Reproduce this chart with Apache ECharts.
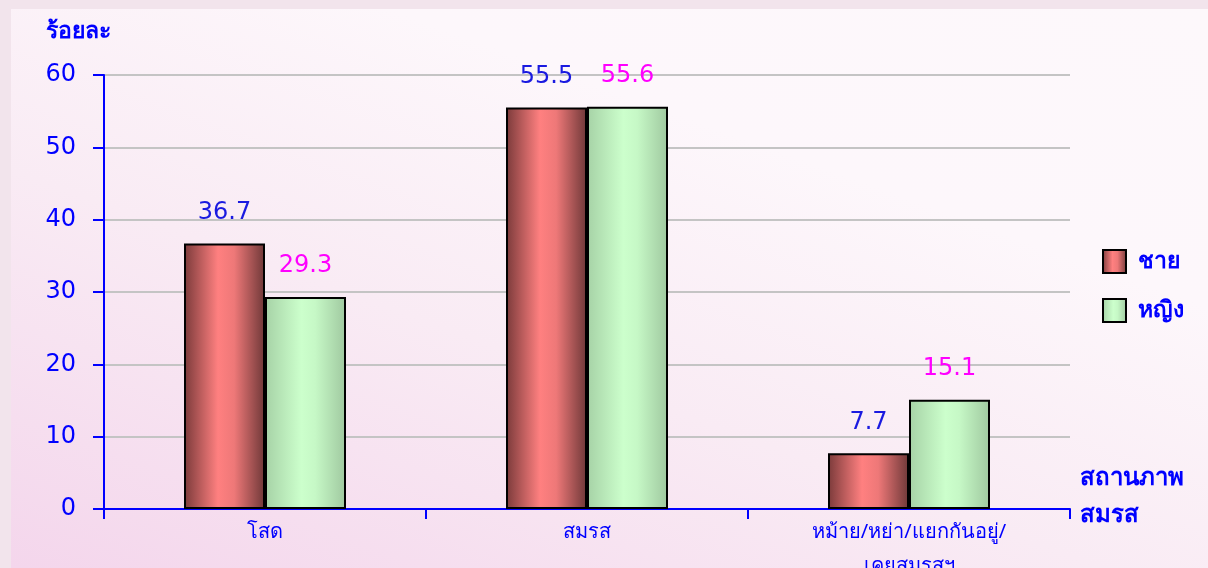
<!DOCTYPE html>
<html>
<head>
<meta charset="utf-8">
<script src="https://cdn.jsdelivr.net/npm/echarts@6/dist/echarts.min.js"></script>
<style>
html,body{margin:0;padding:0;width:1208px;height:568px;overflow:hidden;background:#f2e4ec;}
#bg{position:absolute;left:11px;top:9px;width:1197px;height:559px;background:linear-gradient(20deg,#f4d6ec 0%,#f9ebf4 40%,#fdf7fb 70%,#fdf8fb 100%);}
#chart{position:absolute;left:0;top:0;width:1208px;height:568px;}
</style>
</head>
<body>
<div id="bg"></div>
<div id="chart"></div>
<script>
const categories = ['โสด', 'สมรส', 'หม้าย/หย่า/แยกกันอยู่/\nเคยสมรสฯ'];
const seriesNames = ['ชาย', 'หญิง'];
const maleValues = [36.7, 55.5, 7.7];
const femaleValues = [29.3, 55.6, 15.1];
const yTicks = [0, 10, 20, 30, 40, 50, 60];
const xAxisTitleLines = ['สถานภาพ', 'สมรส'];

const FONT = "Tahoma, 'Noto Sans', 'DejaVu Sans', sans-serif";
const NUMFONT = "'DejaVu Sans', sans-serif";
const BLUE = '#0000ff';

function hGrad(stops) {
  return new echarts.graphic.LinearGradient(0, 0, 1, 0, stops.map(s => ({offset: s[0], color: s[1]})));
}
const maleGrad = hGrad([[0, '#7a3a3a'], [0.42, '#ff8080'], [0.62, '#ee7878'], [1, '#6e3838']]);
const femaleGrad = hGrad([[0, '#a6d2a6'], [0.45, '#ccffcc'], [0.62, '#c6f8c6'], [1, '#9fc89f']]);

const chart = echarts.init(document.getElementById('chart'), null, {renderer: 'canvas'});
chart.setOption({
  backgroundColor: 'transparent',
  animation: false,
  textStyle: {fontFamily: FONT},
  grid: {left: 104, right: 138, top: 75, bottom: 59, containLabel: false, outerBoundsMode: 'none'},
  legend: {
    orient: 'vertical',
    left: 1097,
    top: 244,
    itemWidth: 23,
    itemHeight: 23,
    itemGap: 24,
    icon: 'rect',
    textStyle: {color: BLUE, fontSize: 23, fontWeight: 'bold', fontFamily: FONT, padding: [0, 0, 0, 7]},
    data: seriesNames
  },
  xAxis: {
    type: 'category',
    data: categories,
    name: xAxisTitleLines.map(t => '{a|' + t + '}').join('\n') + '\n{b| }',
    nameLocation: 'end',
    nameGap: 10,
    nameTextStyle: {
      align: 'left', verticalAlign: 'middle',
      rich: {
        a: {color: BLUE, fontSize: 24, fontWeight: 'bold', lineHeight: 37, fontFamily: FONT},
        b: {fontSize: 10, lineHeight: 25}
      }
    },
    axisLine: {lineStyle: {color: BLUE, width: 2}},
    axisTick: {show: true, length: 10, lineStyle: {color: BLUE, width: 2}, alignWithLabel: false},
    axisLabel: {color: BLUE, fontSize: 20, margin: 6, lineHeight: 34, interval: 0}
  },
  yAxis: {
    type: 'value',
    min: 0, max: 60, interval: 10,
    name: 'ร้อยละ',
    nameLocation: 'end',
    nameGap: 32,
    nameTextStyle: {color: BLUE, fontSize: 23, fontWeight: 'bold', align: 'center', padding: [0, 52, 0, 0]},
    axisLine: {show: true, lineStyle: {color: BLUE, width: 2}},
    axisTick: {show: true, length: 11, lineStyle: {color: BLUE, width: 2}},
    axisLabel: {color: BLUE, fontSize: 24, fontFamily: NUMFONT, margin: 28, formatter: v => yTicks.includes(v) ? String(v) : ''},
    splitLine: {show: true, lineStyle: {color: '#c4c4c4', width: 2}}
  },
  series: [
    {
      name: seriesNames[0],
      type: 'bar',
      data: maleValues,
      barWidth: 81,
      barGap: '0%',
      itemStyle: {color: maleGrad, borderColor: '#000', borderWidth: 2},
      label: {show: true, position: 'top', distance: 19, color: '#1a1ae0', fontSize: 24, fontFamily: NUMFONT, formatter: p => p.value.toFixed(1)}
    },
    {
      name: seriesNames[1],
      type: 'bar',
      data: femaleValues,
      barWidth: 81,
      barGap: '0%',
      itemStyle: {color: femaleGrad, borderColor: '#000', borderWidth: 2},
      label: {show: true, position: 'top', distance: 19, color: '#ff00ff', fontSize: 24, fontFamily: NUMFONT, formatter: p => p.value.toFixed(1)}
    }
  ]
});
</script>
</body>
</html>
